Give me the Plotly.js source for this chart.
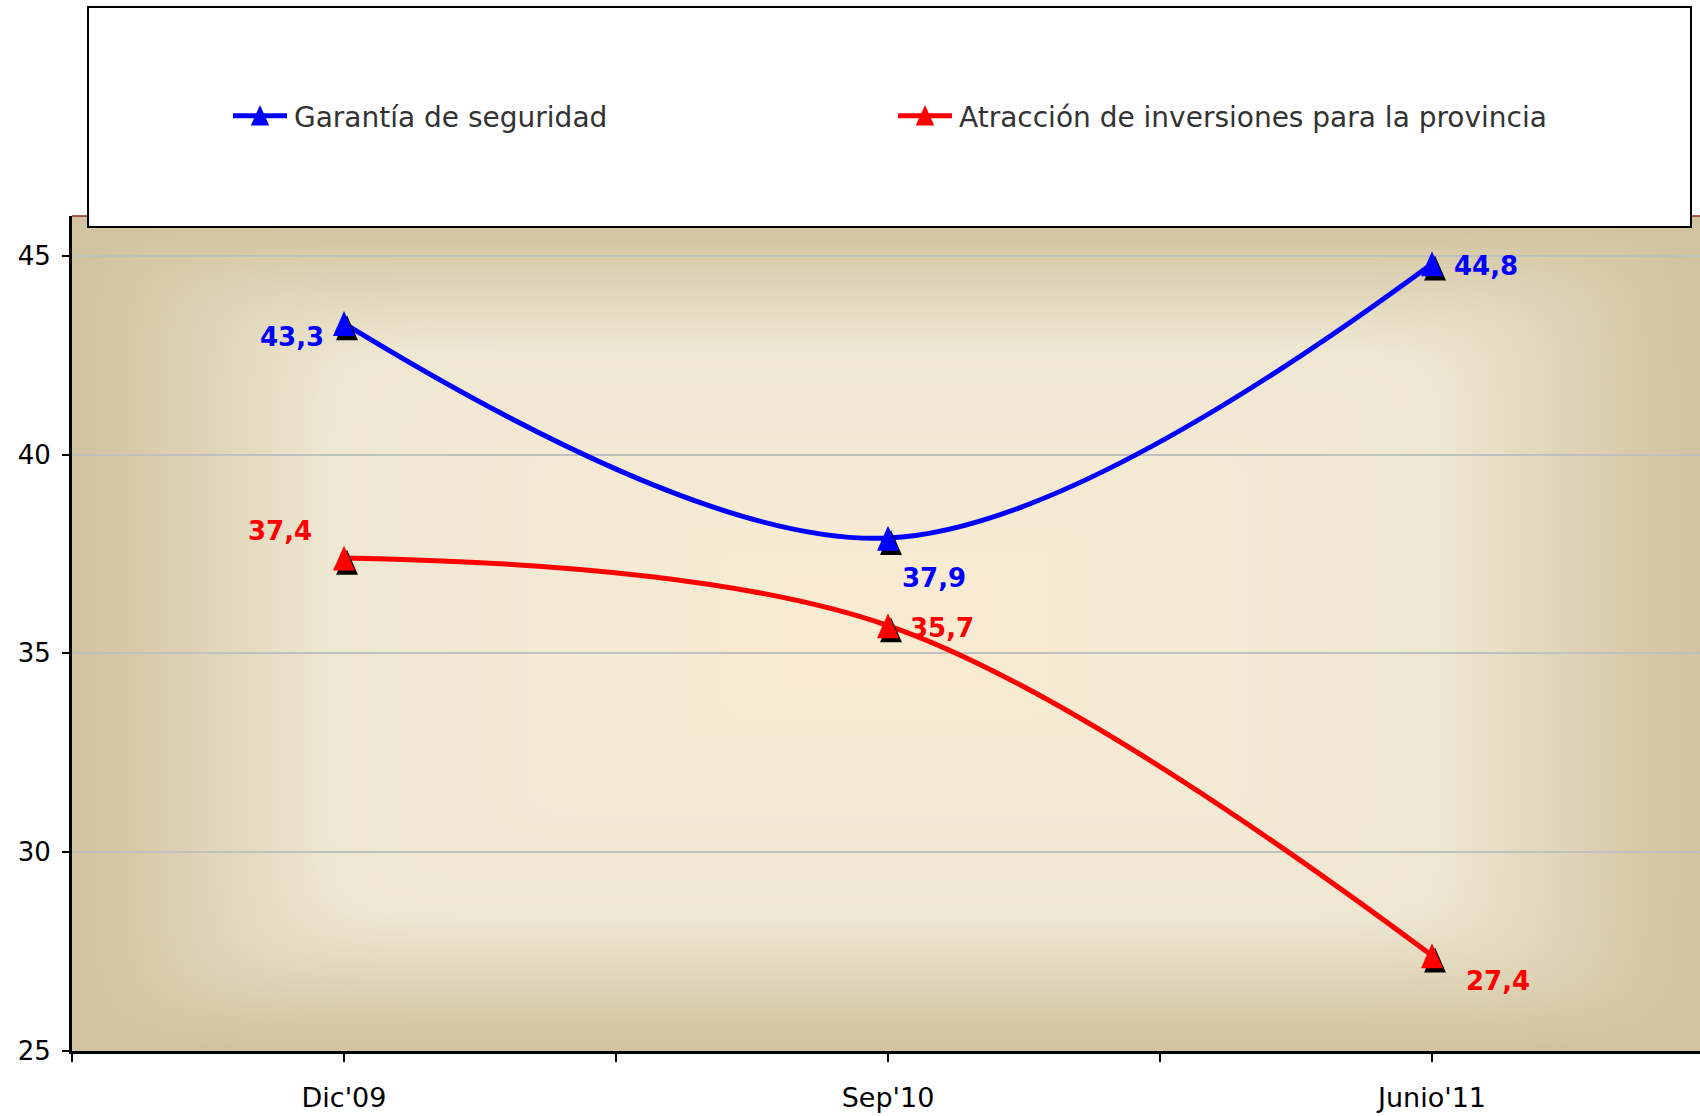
<!DOCTYPE html>
<html>
<head>
<meta charset="utf-8">
<script src="https://cdn.plot.ly/plotly-3.0.1.min.js"></script>
<style>
  html, body { margin: 0; padding: 0; background: #ffffff; }
  #chart { width: 1700px; height: 1116px; }
</style>
</head>
<body>
<div id="chart"></div>
<script>
// ---- data ----
var categories = ["Dic'09", "Sep'10", "Junio'11"];
var seriesNames = ["Garantía de seguridad", "Atracción de inversiones para la provincia"];
var garantiaSeguridad = [43.3, 37.9, 44.8];
var atraccionInversiones = [37.4, 35.7, 27.4];
var yTickValues = [25, 30, 35, 40, 45];

// ---- styling (not data) ----
var seriesColors = ['#0000FF', '#FF0000'];
var labelOffsets = [
  [[-52, -14], [46, -40], [54, -2]],
  [[-64, 27], [54, -2], [66, -25]]
];
var FONT = '"DejaVu Sans", Verdana, sans-serif';
var CATEGORY_PX = 544;   // width of one category slot in pixels
var PLOT_W = 1628, PLOT_H = 835;

var xIdx = categories.map(function (c, i) { return i; });
var allSeries = [garantiaSeguridad, atraccionInversiones];

var traces = allSeries.map(function (vals, s) {
  return {
    type: 'scatter',
    mode: 'lines+markers',
    name: seriesNames[s],
    x: xIdx,
    y: vals,
    line: { color: seriesColors[s], width: 5, shape: 'spline', smoothing: 1 },
    marker: { symbol: 'triangle-up', size: 19, color: seriesColors[s] },
    hoverinfo: 'skip'
  };
});

var annotations = [];
allSeries.forEach(function (vals, s) {
  vals.forEach(function (v, i) {
    annotations.push({
      x: xIdx[i], y: v, xref: 'x', yref: 'y',
      text: '<b>' + v.toFixed(1).replace('.', ',') + '</b>',
      showarrow: false,
      xshift: labelOffsets[s][i][0],
      yshift: labelOffsets[s][i][1],
      font: { family: FONT, size: 26, color: seriesColors[s] }
    });
  });
});

// tick positions every half category (labels only on categories)
var xTickVals = [], xTickText = [];
categories.forEach(function (c, i) {
  xTickVals.push(i - 0.5); xTickText.push('');
  xTickVals.push(i); xTickText.push(c);
});

// background: rectangular "from centre" gradient drawn to a canvas
function makeBackground(W, H) {
  var cv = document.createElement('canvas');
  cv.width = W; cv.height = H;
  var ctx = cv.getContext('2d');
  var img = ctx.createImageData(W, H);
  var stops = [
    [0.00, [0xD2, 0xC3, 0xA0]],
    [0.07, [0xD6, 0xC9, 0xA7]],
    [0.32, [0xEE, 0xE7, 0xD2]],
    [0.60, [0xF3, 0xEA, 0xD4]],
    [1.00, [0xFA, 0xEB, 0xD1]]
  ];
  function col(t) {
    for (var k = 1; k < stops.length; k++) {
      if (t <= stops[k][0]) {
        var a = stops[k - 1], b = stops[k];
        var f = (t - a[0]) / (b[0] - a[0]);
        return [a[1][0] + (b[1][0] - a[1][0]) * f,
                a[1][1] + (b[1][1] - a[1][1]) * f,
                a[1][2] + (b[1][2] - a[1][2]) * f];
      }
    }
    return stops[stops.length - 1][1];
  }
  var hw = W / 2, hh = H / 2, p = 14;
  for (var y = 0; y < H; y++) {
    var v = Math.abs(y + 0.5 - hh) / hh;
    var vp = Math.pow(v, p);
    for (var x = 0; x < W; x++) {
      var u = Math.abs(x + 0.5 - hw) / hw;
      var d = Math.min(1, Math.pow(Math.pow(u, p) + vp, 1 / p));
      var c = col(1 - d);
      var idx = (y * W + x) * 4;
      img.data[idx] = c[0]; img.data[idx + 1] = c[1]; img.data[idx + 2] = c[2]; img.data[idx + 3] = 255;
    }
  }
  ctx.putImageData(img, 0, 0);
  return cv.toDataURL('image/png');
}
var bgSrc = makeBackground(PLOT_W, PLOT_H);

var layout = {
  width: 1700,
  height: 1116,
  margin: { l: 72, r: 0, t: 216, b: 65, pad: 0 },
  paper_bgcolor: '#FFFFFF',
  plot_bgcolor: 'rgba(0,0,0,0)',
  showlegend: true,
  font: { family: FONT, size: 26, color: '#000000' },
  xaxis: {
    type: 'linear',
    range: [-0.5, -0.5 + PLOT_W / CATEGORY_PX],
    tickmode: 'array',
    tickvals: xTickVals,
    ticktext: xTickText,
    ticks: 'outside',
    ticklen: 8,
    tickwidth: 2,
    tickcolor: '#000000',
    showline: true,
    linecolor: '#000000',
    linewidth: 3,
    showgrid: false,
    zeroline: false,
    ticklabelstandoff: 13,
    tickfont: { family: FONT, size: 27, color: '#000000' },
    fixedrange: true
  },
  yaxis: {
    range: [25, 46],
    tickmode: 'array',
    tickvals: yTickValues,
    ticktext: yTickValues.map(String),
    ticks: 'outside',
    ticklen: 7,
    tickwidth: 2,
    tickcolor: '#000000',
    showline: true,
    linecolor: '#000000',
    linewidth: 3,
    showgrid: true,
    gridcolor: '#C0C0C0',
    gridwidth: 2,
    zeroline: false,
    ticklabelstandoff: 6,
    tickfont: { family: FONT, size: 26, color: '#000000' },
    fixedrange: true
  },
  legend: {
    orientation: 'h',
    xref: 'container', yref: 'container',
    x: 228 / 1700, xanchor: 'left',
    y: 1 - 116 / 1116, yanchor: 'middle',
    bgcolor: 'rgba(0,0,0,0)',
    borderwidth: 0,
    itemwidth: 56,
    entrywidth: 594,
    entrywidthmode: 'pixels',
    font: { family: FONT, size: 28, color: '#333333' },
    itemclick: false, itemdoubleclick: false
  },
  images: [{
    source: bgSrc,
    xref: 'paper', yref: 'paper',
    x: 0, y: 1, sizex: 1, sizey: 1,
    xanchor: 'left', yanchor: 'top',
    sizing: 'stretch', layer: 'below'
  }],
  shapes: [
    { type: 'line', xref: 'paper', yref: 'paper', x0: 0, x1: 1, y0: 1, y1: 1,
      line: { color: '#8B2A1A', width: 1.5 }, layer: 'above' },
    { type: 'rect', xref: 'paper', yref: 'paper',
      x0: (88 - 72) / PLOT_W, x1: (1691 - 72) / PLOT_W,
      y0: (1051 - 227) / PLOT_H, y1: (1051 - 7) / PLOT_H,
      line: { color: '#000000', width: 2 }, fillcolor: '#FFFFFF', layer: 'above' }
  ],
  annotations: annotations,
  hovermode: false
};

Plotly.newPlot('chart', traces, layout, { displayModeBar: false, staticPlot: true }).then(function (gd) {
  // taller triangles with a drop shadow
  var pts = gd.querySelectorAll('.scatterlayer .trace .points path.point');
  pts.forEach(function (p) {
    var base = p.getAttribute('transform') || '';
    var c = p.cloneNode(true);
    c.style.fill = '#000000';
    c.style.stroke = 'none';
    c.setAttribute('transform', base + ' translate(3,8.5) scale(1,1.75)');
    p.setAttribute('transform', base + ' translate(0,4.3) scale(1,1.75)');
    p.parentNode.insertBefore(c, p);
  });
  // longer legend line, centred taller marker
  gd.querySelectorAll('.legend .legendlines path').forEach(function (l) {
    l.setAttribute('d', 'M5,0h54');
  });
  gd.querySelectorAll('.legend .legendpoints path.scatterpts').forEach(function (m) {
    m.setAttribute('transform', 'translate(32,3) scale(1,1.7)');
  });
});
</script>
</body>
</html>
